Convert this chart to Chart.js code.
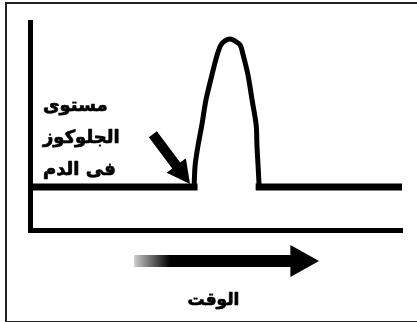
<!DOCTYPE html>
<html lang="ar">
<head>
<meta charset="UTF-8">
<title>مستوى الجلوكوز في الدم</title>
<script src="https://cdn.jsdelivr.net/npm/chart.js"></script>
<style>
  body { margin: 0; background: #fff; }
  .wrap { position: relative; width: 417px; height: 322px; overflow: hidden; }
  .frame {
    position: absolute; left: 5px; top: 2px; width: 420px; height: 317px;
    border: 2px solid #222; border-right: none;
  }
  canvas { position: absolute; left: 0; top: 0; }
</style>
</head>
<body>
<div class="wrap">
  <div class="frame"></div>
  <canvas id="chart" width="417" height="322"></canvas>
</div>
<script>
// glucose level over time (arbitrary units, 0-100)
const baseLevel = 20.7;
const baseTime  = [0, 44.1, null, 61.6, 100];
const peakTime  = [44.1, 44.4, 45.2, 46.2, 47.3, 48.9, 50.3, 51.3, 52.4, 53.8, 55.1, 56.5, 57.3, 58.6, 59.7, 60.8, 61.0, 61.3, 61.6];
const peakLevel = [20.7, 31.3, 40.9, 50.5, 62.5, 74.5, 84.1, 88.9, 90.9, 91.8, 90.9, 88.9, 84.1, 74.5, 62.5, 50.5, 40.9, 31.3, 20.7];
const yLabel = ['مستوى', 'الجلوكوز', 'فى الدم'];
const xLabel = 'الوقت';
const arrowTime = [28, 70, 77.7]; // time arrow: tail, head start, tip

// a null time leaves a gap in the flat line where the peak is drawn
const basePoints = baseTime.map((t, i) => t === null ? { x: 52, y: null } : { x: t, y: baseLevel });
const peakPoints = peakTime.map((t, i) => ({ x: t, y: peakLevel[i] }));

const notes = {
  id: 'notes',
  afterDraw(chart) {
    const { ctx, chartArea, scales: { x, y } } = chart;
    ctx.save();
    ctx.fillStyle = '#000';
    ctx.strokeStyle = '#000';
    ctx.lineWidth = 0.7;
    ctx.lineJoin = 'round';

    // label inside the plot
    ctx.font = 'bold 18px "DejaVu Sans"';
    ctx.textAlign = 'left';
    ctx.textBaseline = 'alphabetic';
    ctx.direction = 'rtl';
    yLabel.forEach((t, i) => {
      ctx.fillText(t, chartArea.left + 13, 111 + i * 32);
      ctx.strokeText(t, chartArea.left + 13, 111 + i * 32);
    });

    // diagonal arrow pointing at the start of the rise
    const tipX = x.getPixelForValue(peakTime[0]) - 4;
    const tipY = y.getPixelForValue(baseLevel) - 3;
    const dx = 0.6, dy = 0.8, nx = -0.8, ny = 0.6;
    const len = 62, head = 23, sw = 5, hw = 12;
    const tx = tipX - dx * len, ty = tipY - dy * len;
    const bx = tipX - dx * head, by = tipY - dy * head;
    ctx.beginPath();
    ctx.moveTo(tx + nx * sw, ty + ny * sw);
    ctx.lineTo(bx + nx * sw, by + ny * sw);
    ctx.lineTo(bx + nx * hw, by + ny * hw);
    ctx.lineTo(tipX, tipY);
    ctx.lineTo(bx - nx * hw, by - ny * hw);
    ctx.lineTo(bx - nx * sw, by - ny * sw);
    ctx.lineTo(tx - nx * sw, ty - ny * sw);
    ctx.closePath();
    ctx.fill();

    // time arrow under the x axis
    const ay = chartArea.bottom + 31;
    const a0 = x.getPixelForValue(arrowTime[0]);
    const a1 = x.getPixelForValue(arrowTime[1]);
    const a2 = x.getPixelForValue(arrowTime[2]);
    const grad = ctx.createLinearGradient(a0, 0, a0 + 36, 0);
    grad.addColorStop(0, 'rgba(0,0,0,0.2)');
    grad.addColorStop(1, '#000');
    ctx.fillStyle = grad;
    ctx.fillRect(a0, ay - 6, a1 - a0 + 1, 12);
    ctx.fillStyle = '#000';
    ctx.beginPath();
    ctx.moveTo(a1, ay - 16);
    ctx.lineTo(a2, ay);
    ctx.lineTo(a1, ay + 16);
    ctx.closePath();
    ctx.fill();

    ctx.textAlign = 'center';
    ctx.font = 'bold 17px "DejaVu Sans"';
    ctx.fillText(xLabel, x.getPixelForValue(49.3), 305);
    ctx.strokeText(xLabel, x.getPixelForValue(49.3), 305);
    ctx.restore();
  }
};

new Chart(document.getElementById('chart'), {
  type: 'line',
  data: {
    datasets: [{
      data: basePoints,
      borderColor: '#000',
      borderWidth: 7,
      borderCapStyle: 'square',
      spanGaps: false,
      tension: 0,
      pointRadius: 0
    }, {
      data: peakPoints,
      borderColor: '#000',
      borderWidth: 5,
      borderCapStyle: 'square',
      borderJoinStyle: 'round',
      tension: 0.3,
      pointRadius: 0
    }]
  },
  options: {
    responsive: false,
    animation: false,
    layout: { padding: { left: 30, top: 22, right: 15, bottom: 92 } },
    plugins: { legend: { display: false }, tooltip: { enabled: false } },
    scales: {
      x: {
        type: 'linear', min: 0, max: 100,
        ticks: { display: false },
        grid: { display: false, drawTicks: false },
        border: { display: true, width: 5, color: '#000' }
      },
      y: {
        min: 0, max: 100,
        ticks: { display: false },
        grid: { display: false, drawTicks: false },
        border: { display: true, width: 5, color: '#000' }
      }
    }
  },
  plugins: [notes]
});
</script>
</body>
</html>
